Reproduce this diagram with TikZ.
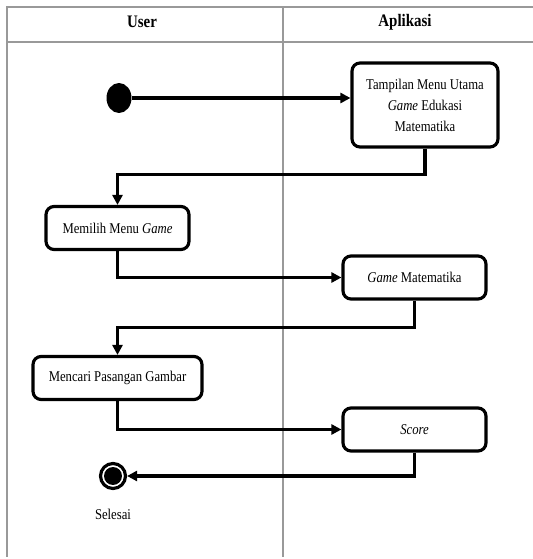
\documentclass[tikz,border=0pt]{standalone}
\usepackage{fontspec}
\setmainfont{Liberation Serif}[FakeStretch=0.85]
\usepackage{tikz}
\usetikzlibrary{shapes.geometric, arrows.meta, positioning}
\tikzset{
  activity/.style={rectangle, rounded corners=1.6mm, minimum width=2.86cm, minimum height=0.86cm, text centered, draw=black, line width=1.8pt, font=\fontsize{8.5}{12}\selectfont, align=center},
  initial/.style={ellipse, fill=black, minimum width=0.5cm, minimum height=0.6cm, inner sep=0pt},
  final/.style={circle, draw=black, line width=1.8pt, minimum size=0.5cm, inner sep=0pt, path picture={\fill[black] (path picture bounding box.center) circle (0.18cm);}},
  lane/.style={draw=gray!80, line width=0.7pt},
  lanehead/.style={font=\fontsize{10}{12}\selectfont\bfseries},
  arrow/.style={line width=1.8pt, -{Triangle[length=2mm,width=2mm]}}
}

\begin{document}
\begin{tikzpicture}[x=0.02cm, y=0.02cm]
    \useasboundingbox (0,0) rectangle (533,559);

    % swimlanes
    \draw[lane] (7,2) -- (7,552) -- (533,552);
    \draw[lane] (7,517) -- (533,517);
    \draw[lane] (283,552) -- (283,2);
    \node (user) [lanehead] at (142,537) {User};
    \node (aplikasi) [lanehead] at (405,537) {Aplikasi};

    % activities
    \node (start) [initial] at (119,461) {};
    \node (tampil) [activity, minimum width=2.92cm, minimum height=1.68cm] at (425,454) {Tampilan Menu Utama\\\textit{Game} Edukasi\\Matematika};
    \node (pilih) [activity] at (117.5,331) {Memilih Menu \textit{Game}};
    \node (gamemat) [activity] at (414.5,281.5) {\textit{Game} Matematika};
    \node (cari) [activity, minimum width=3.38cm] at (117.5,181) {Mencari Pasangan Gambar};
    \node (score) [activity] at (414.5,129.5) {\textit{Score}};
    \node (finish) [final] at (113,83) {};
    \node (selesai) [below=0.25cm of finish, font=\fontsize{8.5}{12}\selectfont] {Selesai};

    % flow
    \draw[arrow] (start.east) -- (start.east -| tampil.west);
    \draw[arrow] (tampil.south) -- ++(0,-26) -| (pilih.north);
    \draw[arrow] (pilih.south) |- (gamemat.west);
    \draw[arrow] (gamemat.south) -- ++(0,-27) -| (cari.north);
    \draw[arrow] (cari.south) |- (score.west);
    \draw[arrow] (score.south) |- (finish.east);
  \end{tikzpicture}
\end{document}
